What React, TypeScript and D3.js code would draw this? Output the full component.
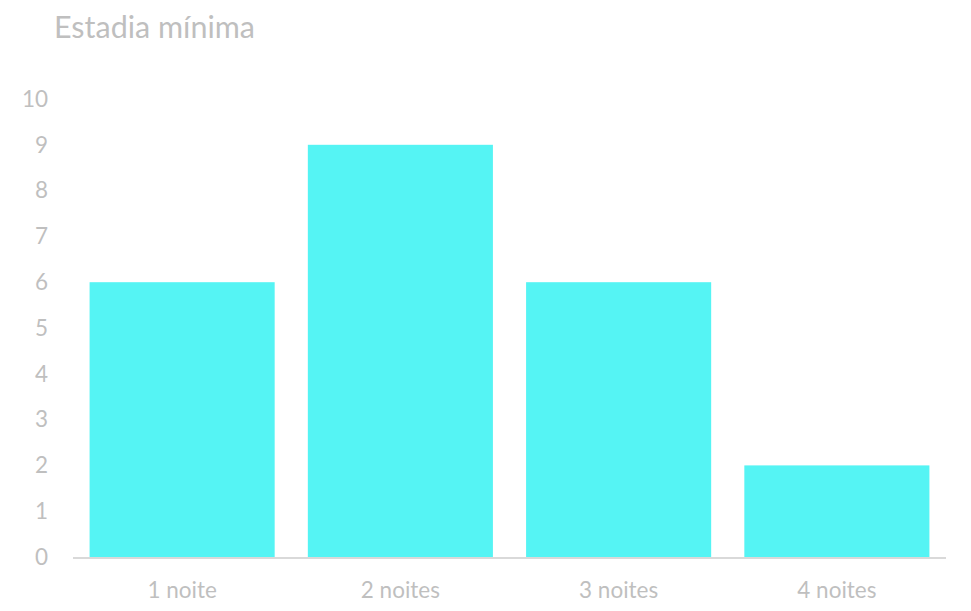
import React from "react";
import * as d3 from "d3";

const categories = ["1 noite", "2 noites", "3 noites", "4 noites"];
const values = [6, 9, 6, 2];
const yTicks = [0, 1, 2, 3, 4, 5, 6, 7, 8, 9, 10];
const title = "Estadia mínima";

export default function App() {
  const W = 971, H = 611;
  const x = d3.scaleBand<string>().domain(categories).range([73, 946]).paddingInner(0.152).paddingOuter(0.076);
  const y = d3.scaleLinear().domain([0, 10]).range([557, 99]);
  const font = "Lato, 'Open Sans', sans-serif";
  const grey = "#bfbfbf";
  return (
    <svg width={W} height={H} style={{ position: "absolute", left: 0, top: 0 }}>
      <rect width={W} height={H} fill="#fff" />
      <text x={54} y={38} fontSize={30.5} fill={grey} fontFamily={font}>{title}</text>
      {yTicks.map(t => (
        <text key={t} x={48} y={y(t)} dy="0.35em" textAnchor="end" fontSize={22.5} fill={grey} fontFamily={font}>{t}</text>
      ))}
      {categories.map((c, i) => (
        <rect key={c} x={x(c)} y={y(values[i])} width={x.bandwidth()} height={y(0) - y(values[i])} fill="#55f4f4" />
      ))}
      <line x1={73} x2={946} y1={y(0) + 1} y2={y(0) + 1} stroke="#d9d9d9" strokeWidth={2} />
      {categories.map(c => (
        <text key={c} x={(x(c) as number) + x.bandwidth() / 2} y={598} textAnchor="middle" fontSize={22.5} fill={grey} fontFamily={font}>{c}</text>
      ))}
    </svg>
  );
}
